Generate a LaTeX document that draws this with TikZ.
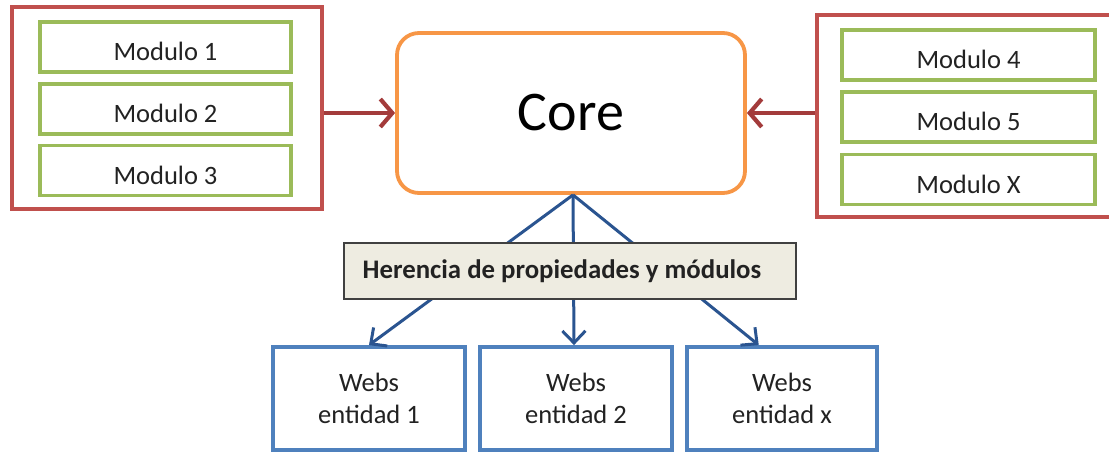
\documentclass[tikz,border=0pt]{standalone}
\usepackage{fontspec}
\setmainfont{Carlito}
\usetikzlibrary{arrows.meta,calc}
\definecolor{grpred}{HTML}{C0504D}
\definecolor{modgreen}{HTML}{9BBB59}
\definecolor{coreorange}{HTML}{F79646}
\definecolor{webblue}{HTML}{4F81BD}
\definecolor{arrowred}{HTML}{A33B3B}
\definecolor{arrowblue}{HTML}{2A5490}
\definecolor{beige}{HTML}{EEECE1}
\definecolor{txt}{HTML}{222222}
\tikzset{
  grpbox/.style={draw=grpred, line width=3.8pt, fill=white, minimum width=#1, minimum height=202pt, inner sep=0pt},
  modbox/.style={draw=modgreen, line width=3.6pt, fill=white, minimum height=50pt, minimum width=#1, inner sep=0pt,
     text height=27pt, text depth=0pt, text=txt, font=\fontsize{26.5}{31}\selectfont},
  corebox/.style={draw=coreorange, line width=3.8pt, fill=white, rounded corners=22pt, minimum width=348pt,
     minimum height=160pt, font=\fontsize{56}{60}\selectfont, inner sep=0pt},
  webbox/.style={draw=webblue, line width=3.8pt, fill=white, minimum width=#1, minimum height=103pt,
     inner sep=0pt, align=center, text=txt, font=\fontsize{26.5}{32}\selectfont},
  herbox/.style={draw=black!75, line width=1.8pt, fill=beige, minimum width=452pt, minimum height=56pt,
     inner sep=0pt, text=txt, font=\bfseries\fontsize{26.8}{31}\selectfont},
  redarrow/.style={draw=arrowred, line width=4.2pt, -{Straight Barb[length=12pt, width=28pt, line width=4.2pt]}},
  bluearrow/.style={draw=arrowblue, line width=3pt, -{Straight Barb[length=12pt, width=23pt, line width=3pt]}}
}
\begin{document}
\begin{tikzpicture}[x=1pt, y=-1pt]
\clip (0,0) rectangle (1109,452);
\useasboundingbox (0,0) rectangle (1109,452);
% left group
\node[grpbox=310pt] (leftgrp) at (167,108) {};
\node[modbox=251pt] (m1) at (165.5,47) {Modulo 1};
\node[modbox=251pt] (m2) at (165.5,109) {Modulo 2};
\node[modbox=251pt] (m3) at (165.5,170.5) {Modulo 3};
% right group
\node[grpbox=298pt] (rightgrp) at (966,116) {};
\node[modbox=253pt] (m4) at (968.5,55) {Modulo 4};
\node[modbox=253pt] (m5) at (968.5,117) {Modulo 5};
\node[modbox=253pt] (mx) at (968.5,179.5) {Modulo X};
% core
\node[corebox] (core) at (571,113) {Core};
% webs
\node[webbox=192pt] (w1) at (369,398.5) {Webs\\entidad 1};
\node[webbox=192pt] (w2) at (576,398.5) {Webs\\entidad 2};
\node[webbox=190pt] (w3) at (782,398.5) {Webs\\entidad x};
% arrows
\draw[redarrow] (leftgrp.east|-core.west) -- (core.west);
\draw[redarrow] (rightgrp.west|-core.east) -- (core.east);
\coordinate (apex) at ($(core.south)+(2,0)$);
\coordinate (t1) at (w1.north);
\coordinate (t2) at ($(w2.north)+(-2,0)$);
\coordinate (t3) at ($(w3.north west)!0.38!(w3.north east)$);
\draw[bluearrow] (apex) -- (t1);
\draw[bluearrow] (apex) -- (t2);
\draw[bluearrow] (apex) -- (t3);
% herencia label
\node[herbox] (her) at (570,271) {\hspace*{-16pt}Herencia de propiedades y módulos};
\end{tikzpicture}
\end{document}
